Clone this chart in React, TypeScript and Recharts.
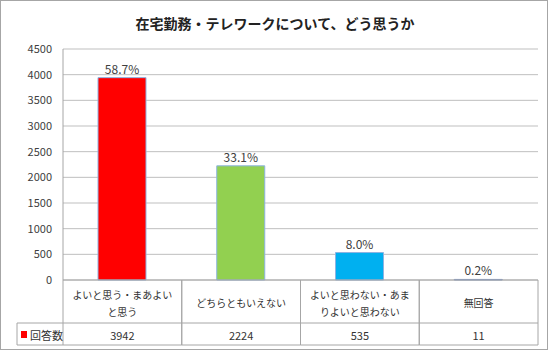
import React from 'react'
import { BarChart, Bar, XAxis, YAxis, CartesianGrid, Cell, LabelList } from 'recharts'

const categories = ['よいと思う・まあよいと思う', 'どちらともいえない', 'よいと思わない・あまりよいと思わない', '無回答']
const categoryLines = [['よいと思う・まあよい', 'と思う'], ['どちらともいえない'], ['よいと思わない・あま', 'りよいと思わない'], ['無回答']]
const counts = [3942, 2224, 535, 11]
const percents = ['58.7%', '33.1%', '8.0%', '0.2%']
const barColors = ['#ff0000', '#92d050', '#00b0f0', '#8ea9db']
const yTicks = [0, 500, 1000, 1500, 2000, 2500, 3000, 3500, 4000, 4500]

const seriesName = '回答数'
const FONT = '"Noto Sans CJK JP", "Noto Sans", sans-serif'
const LINE = '#a6a6a6'
const BAND = 118.75

const data = categories.map((name, i) => ({
  name,
  idx: i,
  count: counts[i],
  pct: percents[i],
}))

// draws one column of the data table under the plot
function TableTick(props: any) {
  const { x, y, index } = props
  const left = x - BAND / 2
  const lines = categoryLines[index]
  const rowH = 43
  const tableH = 65
  return (
    <g>
      <line x1={left} y1={y} x2={left} y2={y + tableH} stroke={LINE} />
      <line x1={left + BAND} y1={y} x2={left + BAND} y2={y + tableH} stroke={LINE} />
      <line x1={left} y1={y + rowH} x2={left + BAND} y2={y + rowH} stroke={LINE} />
      <line x1={left} y1={y + tableH} x2={left + BAND} y2={y + tableH} stroke={LINE} />
      {lines.map((t, i) => (
        <text
          key={i}
          x={x}
          y={y + (lines.length === 1 ? 22 : 14 + i * 17)}
          textAnchor="middle"
          dominantBaseline="central"
          fontSize={10}
          fill="#333"
          fontFamily={FONT}
        >
          {t}
        </text>
      ))}
      <text x={x} y={y + 55} textAnchor="middle" dominantBaseline="central" fontSize={11} fill="#333" fontFamily={FONT}>
        {counts[index]}
      </text>
      {index === 0 && (
        <g>
          <line x1={17} y1={y + rowH} x2={left} y2={y + rowH} stroke={LINE} />
          <line x1={17} y1={y + tableH} x2={left} y2={y + tableH} stroke={LINE} />
          <line x1={17} y1={y + rowH} x2={17} y2={y + tableH} stroke={LINE} />
          <rect x={21} y={y + 51} width={6} height={7} fill="#ff0000" />
          <text x={30} y={y + 55} dominantBaseline="central" fontSize={11} fill="#333" fontFamily={FONT}>
            {seriesName}
          </text>
        </g>
      )}
    </g>
  )
}

export default function App() {
  return (
    <div style={{ position: 'absolute', left: 0, top: 0, width: 550, height: 351, background: '#fff' }}>
      <div
        style={{
          position: 'absolute',
          left: 0,
          top: 0,
          width: 546,
          height: 348,
          border: '1px solid #a6a6a6',
        }}
      />
      <div
        style={{
          position: 'absolute',
          top: 13,
          left: 0,
          width: 550,
          textAlign: 'center',
          fontFamily: FONT,
          fontWeight: 700,
          fontSize: 14,
          color: '#222',
          lineHeight: '20px',
        }}
      >
        在宅勤務・テレワークについて、どう思うか
      </div>
      <div style={{ position: 'absolute', left: 0, top: 0 }}>
        <BarChart width={550} height={351} data={data} margin={{ top: 49, right: 12, left: 0, bottom: 6 }}>
          <CartesianGrid vertical={false} stroke="#bfbfbf" />
          <XAxis
            dataKey="name"
            height={65}
            tickSize={0}
            tickMargin={0}
            axisLine={{ stroke: LINE }}
            tickLine={false}
            interval={0}
            tick={<TableTick />}
          />
          <YAxis
            width={63}
            domain={[0, 4500]}
            ticks={yTicks}
            tickSize={0}
            tickMargin={11}
            axisLine={{ stroke: LINE }}
            tickLine={false}
            tick={{ fill: '#404040', fontSize: 11, fontFamily: FONT }}
          />
          <Bar dataKey="count" barSize={48} isAnimationActive={false} stroke="#8db3e2" strokeWidth={1}>
            {data.map((d, i) => (
              <Cell key={d.name} fill={barColors[i]} stroke={i === 3 ? '#7f96c4' : '#8db3e2'} />
            ))}
            <LabelList dataKey="pct" position="top" offset={4} fill="#404040" fontSize={12} fontFamily={FONT} />
          </Bar>
        </BarChart>
      </div>
    </div>
  )
}
